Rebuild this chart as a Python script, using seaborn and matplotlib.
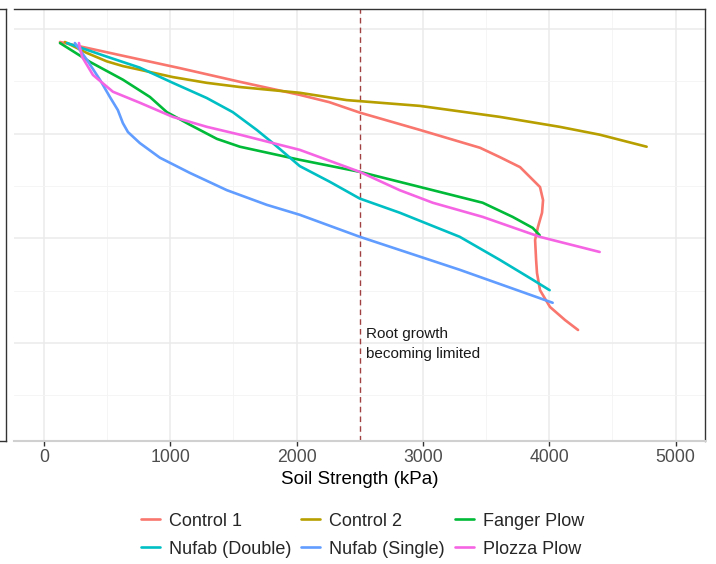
import numpy as np
import pandas as pd
import matplotlib
matplotlib.use("Agg")
import matplotlib.pyplot as plt
from matplotlib.ticker import MultipleLocator
import seaborn as sns

# soil strength (kPa) vs depth
control1_kpa = [127, 600, 1077, 1550, 2025, 2260, 2502, 2977, 3452, 3610, 3769, 3848, 3927, 3951, 3943, 3911, 3888, 3896, 3903, 3927, 4006, 4125, 4228]
control1_depth = [2.5, 5.0, 7.5, 10.1, 12.6, 14.0, 16.0, 19.3, 22.7, 24.5, 26.4, 28.3, 30.2, 32.7, 35.1, 37.8, 40.3, 44.1, 46.6, 49.9, 53.1, 55.6, 57.5]

control2_kpa = [166, 340, 498, 625, 759, 1020, 1289, 1551, 2025, 2397, 2975, 3608, 4082, 4399, 4771]
control2_depth = [2.5, 4.6, 6.2, 7.1, 7.8, 9.2, 10.3, 11.1, 12.2, 13.6, 14.7, 16.8, 18.7, 20.2, 22.5]

fanger_kpa = [127, 364, 625, 839, 973, 1155, 1369, 1551, 2025, 2500, 3078, 3473, 3710, 3869, 3924]
fanger_depth = [2.7, 6.3, 9.7, 13.0, 15.9, 18.3, 21.0, 22.5, 25.0, 27.3, 30.8, 33.2, 35.9, 38.0, 39.4]

nufab_double_kpa = [182, 498, 759, 1020, 1289, 1495, 1685, 1812, 2025, 2263, 2500, 2816, 3291, 3608, 3869, 4003]
nufab_double_depth = [2.7, 5.3, 7.4, 10.3, 13.2, 15.9, 19.3, 21.8, 26.2, 29.2, 32.4, 35.1, 39.7, 44.1, 47.9, 49.9]

nufab_single_kpa = [245, 340, 443, 522, 585, 625, 665, 759, 918, 1155, 1448, 1764, 2025, 2500, 3291, 4027]
nufab_single_depth = [2.7, 5.9, 9.7, 13.0, 15.5, 18.0, 19.7, 21.8, 24.6, 27.5, 30.8, 33.6, 35.5, 39.7, 46.0, 52.3]

plozza_kpa = [277, 301, 388, 546, 759, 1020, 1289, 1551, 1812, 2025, 2500, 2816, 3078, 3473, 3924, 4399]
plozza_depth = [2.7, 5.3, 8.8, 12.0, 14.1, 16.8, 18.7, 20.2, 21.8, 23.1, 27.3, 30.8, 33.2, 35.9, 39.7, 42.6]

treatments = ["Control 1", "Control 2", "Fanger Plow", "Nufab (Double)", "Nufab (Single)", "Plozza Plow"]
colors = ["#F8766D", "#B79F00", "#00BA38", "#00BFC4", "#619CFF", "#F564E3"]

series = {
    "Control 1": (control1_kpa, control1_depth),
    "Control 2": (control2_kpa, control2_depth),
    "Fanger Plow": (fanger_kpa, fanger_depth),
    "Nufab (Double)": (nufab_double_kpa, nufab_double_depth),
    "Nufab (Single)": (nufab_single_kpa, nufab_single_depth),
    "Plozza Plow": (plozza_kpa, plozza_depth),
}

frames = []
for name, (kpa, depth) in series.items():
    frames.append(pd.DataFrame({"kpa": kpa, "depth": depth, "treatment": name}))
df = pd.concat(frames, ignore_index=True)

sns.set_theme(style="whitegrid")
plt.rcParams["font.family"] = ["Liberation Sans", "DejaVu Sans"]

fig = plt.figure(figsize=(7.16, 5.64), dpi=100)
W, H = 716, 564

def box(l, t, r, b):
    return [l / W, 1 - b / H, (r - l) / W, (b - t) / H]

# left neighbour panel, mostly cut off
ax0 = fig.add_axes(box(-200, 9, 6, 441))
ax0.set_xticks([])
ax0.set_yticks([])
ax0.set_facecolor("white")
for s in ax0.spines.values():
    s.set_color("#333333")
    s.set_linewidth(1.0)

ax = fig.add_axes(box(14, 9, 705, 441))
ax.set_facecolor("white")

sns.lineplot(data=df, x="kpa", y="depth", hue="treatment", hue_order=treatments,
             palette=colors, sort=False, estimator=None, linewidth=1.9, ax=ax)
for ln in ax.get_lines():
    ln.set_solid_joinstyle("round")
    ln.set_solid_capstyle("round")

ax.axvline(2500, color="#A04040", linestyle=(0, (4, 3)), linewidth=1.0, zorder=1)
ax.text(2550, 60.2, "Root growth\nbecoming limited", fontsize=11, color="#1a1a1a",
        ha="left", va="center", linespacing=1.6)

ax.set_xlim(-237, 5233)
ax.set_ylim(78.7, -3.8)
ax.xaxis.set_major_locator(MultipleLocator(1000))
ax.xaxis.set_minor_locator(MultipleLocator(500))
ax.yaxis.set_major_locator(MultipleLocator(20))
ax.yaxis.set_minor_locator(MultipleLocator(10))
ax.grid(which="major", color="#EBEBEB", linewidth=1.1)
ax.grid(which="minor", color="#F4F4F4", linewidth=0.6)
ax.set_axisbelow(True)

ax.tick_params(axis="y", which="both", left=False, labelleft=False)
ax.tick_params(axis="x", which="major", bottom=True, length=3.5, width=1.0,
               color="#333333", labelsize=12.7, labelcolor="#4D4D4D", pad=2)
ax.tick_params(axis="x", which="minor", bottom=False)
ax.set_xlabel("Soil Strength (kPa)", fontsize=13.5, color="black", labelpad=4)
ax.set_ylabel("")

ax.spines["left"].set_visible(False)
ax.spines["top"].set_color("#333333")
ax.spines["right"].set_color("#333333")
ax.spines["top"].set_linewidth(1.0)
ax.spines["right"].set_linewidth(1.0)
ax.spines["bottom"].set_color("#D0D0D0")
ax.spines["bottom"].set_linewidth(1.5)

# legend, row-wise order via column-wise filling
handles, labels = ax.get_legend_handles_labels()
ax.get_legend().remove()
lookup = dict(zip(labels, handles))
order = ["Control 1", "Nufab (Double)", "Control 2", "Nufab (Single)", "Fanger Plow", "Plozza Plow"]
fig.legend([lookup[k] for k in order], order, ncol=3, loc="center",
           bbox_to_anchor=(0.506, 0.051), frameon=False, fontsize=13,
           handlelength=1.05, handletextpad=0.5, columnspacing=0.55, labelspacing=0.6)

fig.savefig("out.png", dpi=100, facecolor="white")
